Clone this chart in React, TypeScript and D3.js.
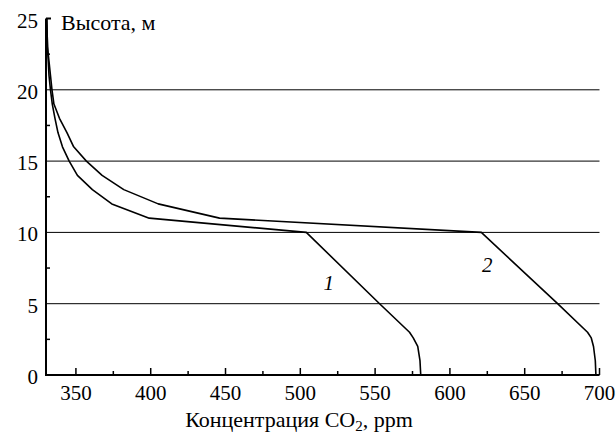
import React from 'react';
import * as d3 from 'd3';

// Heights (m) and CO2 concentrations (ppm)
const heights = [25, 23, 22, 21, 20, 19, 18, 17, 16, 15, 14, 13, 12, 11, 10, 5, 3, 2.6, 2, 1, 0];
const curve1 = [330.5, 331, 331.5, 332, 333, 334.2, 336, 338, 341, 345.5, 351, 361, 374, 399, 504, 553, 573, 575.5, 578.5, 580, 580.5];
const curve2 = [330.5, 331, 332, 333, 334, 335.3, 339, 344, 348.5, 357, 367.5, 382, 405, 446, 621, 672, 692, 694.5, 696, 697.2, 697.6];

const xMajor = [350, 400, 450, 500, 550, 600, 650, 700];
const xMinor = [375, 425, 475, 525, 575, 625, 675];
const yMajor = [0, 5, 10, 15, 20, 25];
const yMinor = [2.5, 7.5, 12.5, 17.5, 22.5];
const gridLines = [5, 10, 15, 20];

const width = 616;
const height = 434;
const margin = { left: 46, right: 16.5, top: 18.5, bottom: 59 };
const font = 'Liberation Serif';

const App: React.FC = () => {
  const x = d3.scaleLinear().domain([330, 700]).range([margin.left, width - margin.right]);
  const y = d3.scaleLinear().domain([0, 25]).range([height - margin.bottom, margin.top]);

  const line = d3.line<[number, number]>()
    .x(d => x(d[0]))
    .y(d => y(d[1]));

  const series = [curve1, curve2].map(c => c.map((v, i) => [v, heights[i]] as [number, number]));

  const x0 = x(330);
  const x1 = x(700);
  const yBase = y(0);

  return (
    <svg width={width} height={height} style={{ position: 'absolute', left: 0, top: 0, background: '#fff' }}>
      {/* grid */}
      {gridLines.map(g => (
        <line key={g} x1={x0} x2={x1} y1={y(g)} y2={y(g)} stroke="#000" strokeWidth={1} />
      ))}

      {/* curves */}
      {series.map((s, i) => (
        <path key={i} d={line(s) ?? ''} fill="none" stroke="#000" strokeWidth={1.6} strokeLinejoin="round" />
      ))}

      {/* axes */}
      <line x1={x0} x2={x0} y1={y(25)} y2={yBase + 0.8} stroke="#000" strokeWidth={2} />
      <line x1={x0 - 1} x2={x1} y1={yBase} y2={yBase} stroke="#000" strokeWidth={2} />
      <line x1={x0} x2={x0 + 5} y1={y(25)} y2={y(25)} stroke="#000" strokeWidth={2} />

      {xMajor.map(t => (
        <line key={t} x1={x(t)} x2={x(t)} y1={yBase} y2={yBase - 7} stroke="#000" strokeWidth={1.5} />
      ))}
      {xMinor.map(t => (
        <line key={t} x1={x(t)} x2={x(t)} y1={yBase} y2={yBase - 4} stroke="#000" strokeWidth={1.5} />
      ))}
      {yMinor.map(t => (
        <line key={t} x1={x0} x2={x0 + 4} y1={y(t)} y2={y(t)} stroke="#000" strokeWidth={1.5} />
      ))}

      {/* tick labels */}
      {xMajor.map(t => (
        <text key={t} x={x(t)} y={yBase + 25} textAnchor="middle" fontFamily={font} fontSize={21}>{t}</text>
      ))}
      {yMajor.map(t => (
        <text key={t} x={x0 - 8} y={y(t) + 9} textAnchor="end" fontFamily={font} fontSize={21}>{t}</text>
      ))}

      {/* axis titles */}
      <text x={61} y={30} fontFamily={font} fontSize={22}>Высота, м</text>
      <text x={299} y={427} textAnchor="middle" fontFamily={font} fontSize={22}>
        Концентрация CO<tspan fontSize={15} dy={4}>2</tspan><tspan dy={-4}>, ppm</tspan>
      </text>

      {/* curve labels */}
      <text x={x(515.5)} y={y(5.96)} fontFamily={font} fontSize={21} fontStyle="italic">1</text>
      <text x={x(621.5)} y={y(7.24)} fontFamily={font} fontSize={21} fontStyle="italic">2</text>
    </svg>
  );
};

export default App;
